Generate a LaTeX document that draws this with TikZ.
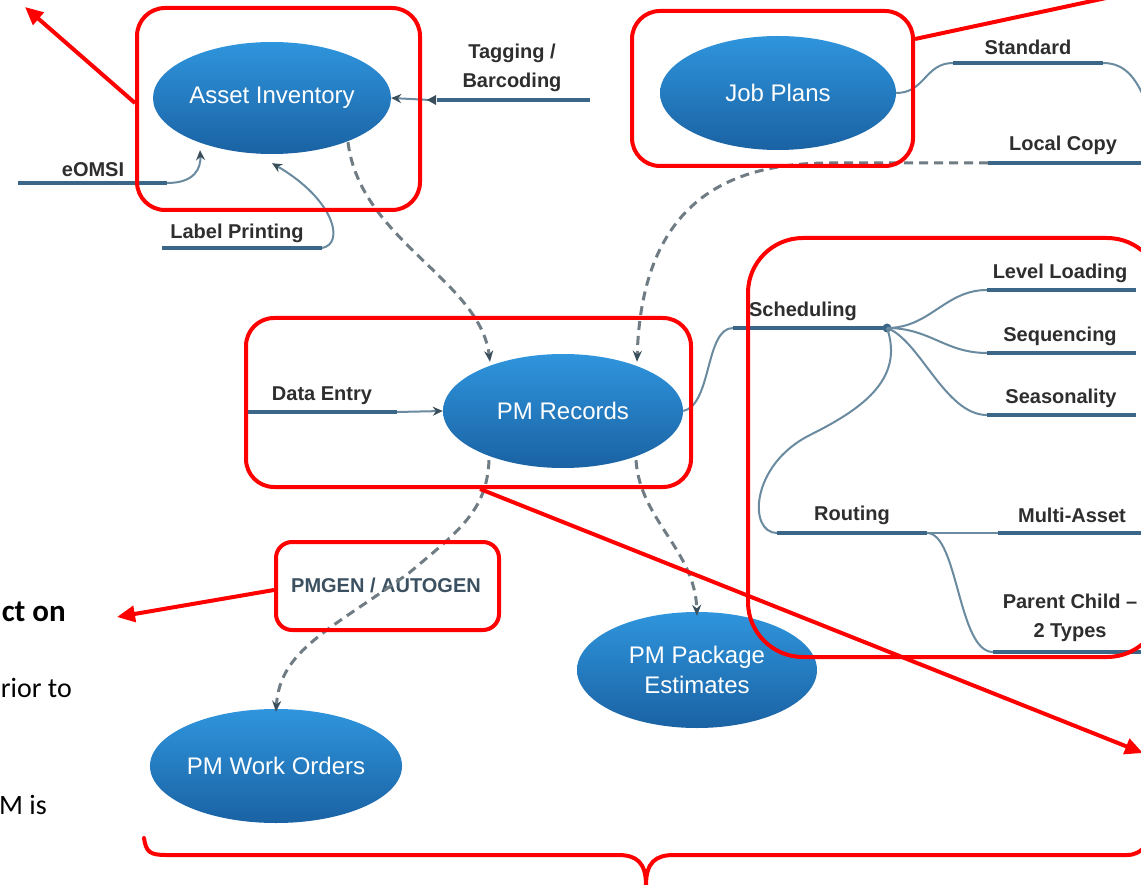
\documentclass[tikz,border=0pt]{standalone}
\usepackage{fontspec}
\setmainfont{Liberation Sans}
\newfontfamily\calfont{Carlito}
\usetikzlibrary{shapes.geometric,arrows.meta,calc}
\definecolor{bubtop}{HTML}{2F95DD}
\definecolor{bubbot}{HTML}{1A62A3}
\definecolor{ulblue}{HTML}{3B6688}
\definecolor{linkblue}{HTML}{6A8AA0}
\definecolor{dashgray}{HTML}{6F7C84}
\definecolor{tipdark}{HTML}{3A4E5C}
\definecolor{labelgray}{HTML}{2E2E2E}
\definecolor{pmgencol}{HTML}{3B5060}
\begin{document}
\begin{tikzpicture}[x=1pt,y=-1pt,
  bub/.style={ellipse, inner sep=0pt, top color=bubtop, bottom color=bubbot, draw=none,
    text=white, font=\fontsize{24}{30}\selectfont, align=center},
  redbox/.style={draw=red, line width=4pt, rounded corners=28pt, inner sep=0pt},
  redarrow/.style={draw=red, line width=4pt, -{Triangle[length=18pt,width=16pt]}},
  lbl/.style={font=\bfseries\fontsize{20}{29}\selectfont, text=labelgray, inner sep=0pt, align=center},
  ul/.style={draw=ulblue, line width=4.5pt},
  thinl/.style={draw=linkblue, line width=2pt},
  dashlink/.style={draw=dashgray, line width=3pt, dash pattern=on 9pt off 6pt,
    -{Stealth[length=11pt,width=9pt,color=tipdark]}},
  bluearrow/.style={thinl, -{Stealth[length=10pt,width=9pt,color=tipdark]}},
  frag/.style={anchor=east, inner sep=0pt, font=\calfont\fontsize{28}{30}\selectfont, text=black}
]
\useasboundingbox (0,0) rectangle (1141,885);
\clip (0,0) rectangle (1141,885);
\fill[white] (0,0) rectangle (1141,885);

% ---------- ellipses ----------
\node[bub, minimum width=238pt, minimum height=112pt] (ai) at (272,98) {Asset Inventory};
\node[bub, minimum width=236pt, minimum height=114pt] (jp) at (778,93) {Job Plans};
\node[bub, minimum width=240pt, minimum height=114pt] (pm) at (563,411) {PM Records};
\node[bub, minimum width=238pt, minimum height=114pt] (wo) at (276,766) {PM Work Orders};
\node[bub, minimum width=240pt, minimum height=116pt] (pe) at (697,670) {PM Package\\Estimates};

% ---------- labels ----------
\node[lbl] (teomsi) at (93,170) {eOMSI};
\node[lbl] (tlabel) at (237,233) {Label Printing};
\node[lbl] (ttag) at (512,68) {Tagging /\\Barcoding};
\node[lbl] (tdata) at (322,396) {Data Entry};
\node[lbl] (tstd) at (1028,47) {Standard};
\node[lbl] (tlocal) at (1063,145) {Local Copy};
\node[lbl] (tsched) at (803,311) {Scheduling};
\node[lbl] (tlevel) at (1060,273) {Level Loading};
\node[lbl] (tseq) at (1060,336) {Sequencing};
\node[lbl] (tseas) at (1061,398) {Seasonality};
\node[lbl] (trout) at (852,515) {Routing};
\node[lbl] (tmulti) at (1072,515) {Multi-Asset};
\node[lbl] (tparent) at (1070,618) {Parent Child –\\2 Types};
\node[lbl, text=pmgencol] (tpmgen) at (386,585) {PMGEN / AUTOGEN};

% ---------- coordinates ----------
\coordinate (eo1) at (18,183);  \coordinate (eo2) at (167,183);
\coordinate (lp1) at (162,248); \coordinate (lp2) at (322,248);
\coordinate (tg1) at (437,100); \coordinate (tg2) at (590,100); \coordinate (tg0) at (430,100);
\coordinate (de1) at (246,412); \coordinate (de2) at (397,412);
\coordinate (sd1) at (953,63);  \coordinate (sd2) at (1103,63); \coordinate (sd3) at (1146,102);
\coordinate (lc1) at (988,163); \coordinate (lc2) at (1141,163); \coordinate (lc0) at (830,163);
\coordinate (sc1) at (733,328); \coordinate (sdot) at (887,328);
\coordinate (ll1) at (987,290); \coordinate (ll2) at (1136,290);
\coordinate (sq1) at (987,353); \coordinate (sq2) at (1136,353);
\coordinate (ss1) at (987,415); \coordinate (ss2) at (1136,415);
\coordinate (ro1) at (777,533); \coordinate (ro2) at (927,533);
\coordinate (ma1) at (998,533); \coordinate (ma2) at (1141,533);
\coordinate (pc1) at (993,652); \coordinate (pc2) at (1141,652);

% ---------- blue connectors ----------
\draw[ul] (eo1) -- (eo2);
\draw[bluearrow] (eo2) .. controls (195,183) and (201,168) .. ([xshift=-72pt,yshift=4pt]ai.south);
\draw[ul] (lp1) -- (lp2);
\draw[bluearrow] (lp2) .. controls (345,244) and (335,200) .. ([yshift=-9pt]ai.south);
\draw[ul] (tg1) -- (tg2);
\draw[bluearrow] (tg0) -- (ai.east);
\fill[tipdark] (427,100) -- (436,95) -- (436,105) -- cycle;
\draw[ul] (de1) -- (de2);
\draw[bluearrow] (de2) -- (pm.west);

\draw[thinl] (jp.east) .. controls (925,93) and (925,63) .. (sd1);
\draw[ul] (sd1) -- (sd2);
\draw[thinl] (sd2) .. controls (1125,63) and (1136,78) .. (sd3);
\draw[ul] (lc1) -- (lc2);

\draw[thinl] (pm.east) .. controls (712,405) and (705,328) .. (sc1);
\draw[ul] (sc1) -- (sdot);
\fill[ulblue] (sdot) circle (4.5pt);
\draw[thinl] (sdot) .. controls (930,328) and (945,290) .. (ll1);
\draw[ul] (ll1) -- (ll2);
\draw[thinl] (sdot) .. controls (930,328) and (945,353) .. (sq1);
\draw[ul] (sq1) -- (sq2);
\draw[thinl] (sdot) .. controls (920,340) and (945,415) .. (ss1);
\draw[ul] (ss1) -- (ss2);
\draw[thinl] (sdot) .. controls (905,380) and (860,410) .. (810,435)
   .. controls (750,465) and (748,533) .. (ro1);
\draw[ul] (ro1) -- (ro2);
\draw[thinl] (ro2) -- (ma1);
\draw[ul] (ma1) -- (ma2);
\draw[thinl] (ro2) .. controls (958,533) and (958,652) .. (pc1);
\draw[ul] (pc1) -- (pc2);

% ---------- dashed connectors ----------
\draw[dashlink] ([xshift=76pt,yshift=12pt]ai.south) .. controls (360,240) and (480,280) .. ([xshift=-73pt,yshift=-8pt]pm.north);
\draw[dashlink] (lc1) -- (lc0) .. controls (730,163) and (642,200) .. ([xshift=74pt,yshift=-8pt]pm.north);
\draw[dashlink] ([xshift=-74pt,yshift=8pt]pm.south) .. controls (487,510) and (460,530) .. (409,573)
   .. controls (330,630) and (280,650) .. ([yshift=-3pt]wo.north);
\draw[dashlink] ([xshift=73pt,yshift=8pt]pm.south) .. controls (640,520) and (695,550) .. ([yshift=-4pt]pe.north);

% ---------- red annotation boxes ----------
\node[redbox, minimum width=283pt, minimum height=202pt] (b1) at (278.5,109) {};
\node[redbox, minimum width=281pt, minimum height=155pt] (b2) at (772.5,88.5) {};
\node[redbox, minimum width=445pt, minimum height=169pt] (b3) at (468.5,402.5) {};
\node[redbox, rounded corners=55pt, minimum width=414pt, minimum height=419pt] (b4) at (955,447.5) {};
\node[redbox, rounded corners=16pt, minimum width=223pt, minimum height=88pt] (b5) at (387.5,586) {};

\coordinate (r1) at (25,7);
\coordinate (r2) at (1162,-14);
\coordinate (r3) at (117,617);
\coordinate (r4) at (1143,753);
\draw[redarrow] ([yshift=6pt]b1.west) -- (r1);
\draw[redarrow] ([yshift=49.5pt]b2.east) -- (r2);
\draw[redarrow] ([yshift=-4pt]b5.west) -- (r3);
\draw[redarrow] ([xshift=11.5pt]b3.south) -- (r4);

% ---------- brace ----------
\draw[red, line width=4pt, line cap=round]
  (144,838) .. controls (146,852) and (150,855) .. (166,855) -- (618,855)
  .. controls (636,855) and (646,862) .. (646,885);
\draw[red, line width=4pt]
  (646,885) .. controls (646,862) and (656,855) .. (674,855) -- (1127,855)
  .. controls (1135,855) and (1141,852) .. (1148,843);

% ---------- side text ----------
\node[frag, font=\calfont\bfseries\fontsize{31}{33}\selectfont] (f1) at (66,612) {ct on};
\node[frag] (f2) at (72,688) {rior to};
\node[frag] (f3) at (47,805) {M is};
\end{tikzpicture}
\end{document}
